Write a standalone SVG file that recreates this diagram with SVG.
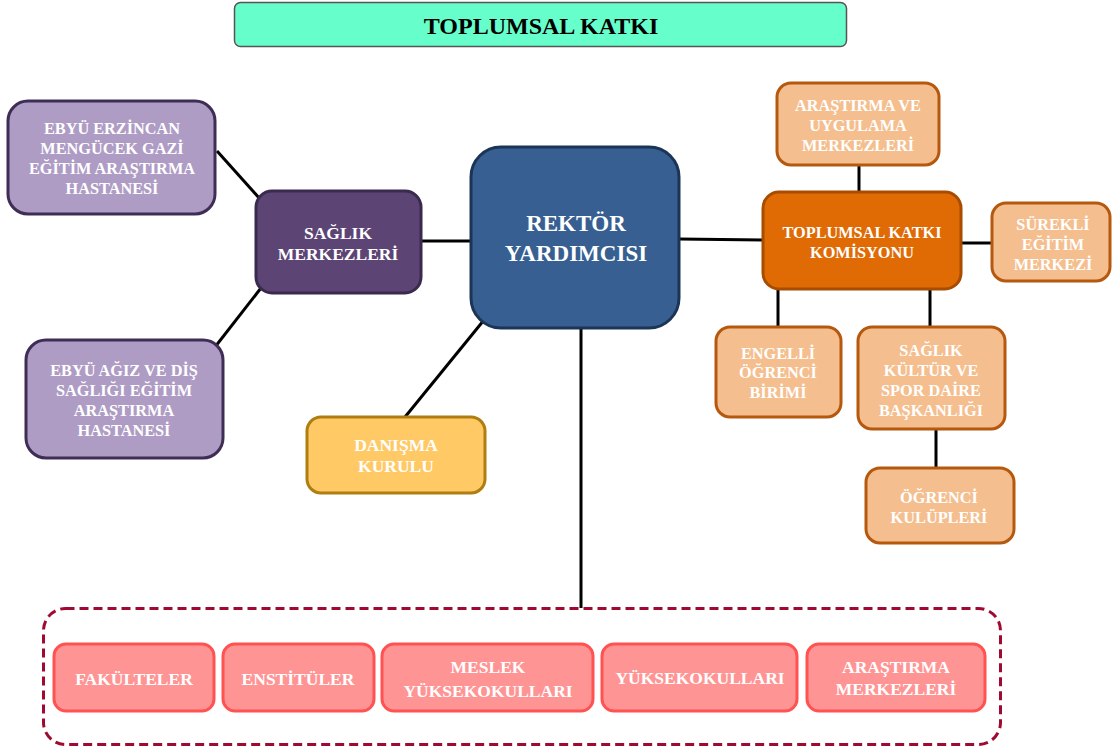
<svg xmlns="http://www.w3.org/2000/svg" width="1112" height="751" viewBox="0 0 1112 751">
<style>
text{font-family:"Liberation Serif","Times New Roman",serif;font-weight:bold;fill:#fff;text-anchor:middle;dominant-baseline:central}
.conn line{stroke:#000;stroke-width:3}
.lp{fill:#AE9CC5;stroke:#3E2D55;stroke-width:3}
.dp{fill:#5C4475;stroke:#3A2A4E;stroke-width:3}
.bl{fill:#375F92;stroke:#1C3557;stroke-width:3}
.ye{fill:#FFC966;stroke:#B07E10;stroke-width:3}
.lo{fill:#F5BE8E;stroke:#B5590F;stroke-width:3}
.do{fill:#E06A04;stroke:#A84C00;stroke-width:3}
.pk{fill:#FF9494;stroke:#FF5252;stroke-width:3}
.t16{font-size:16.3px}
.t17{font-size:17.5px}
</style>
<g id="connectors" class="conn">
<line x1="217" y1="151" x2="260" y2="199"/>
<line x1="215" y1="347" x2="261" y2="288"/>
<line x1="421" y1="241" x2="471" y2="241"/>
<line x1="484" y1="320" x2="405" y2="417"/>
<line x1="581" y1="328" x2="581" y2="608"/>
<line x1="679" y1="239" x2="763" y2="240"/>
<line x1="859" y1="165" x2="859" y2="192"/>
<line x1="961" y1="243" x2="992" y2="243"/>
<line x1="778" y1="289" x2="778" y2="327"/>
<line x1="930" y1="289" x2="930" y2="327"/>
<line x1="936" y1="429" x2="936" y2="468"/>
</g>
<g id="title">
<rect x="234.5" y="2.5" width="612" height="44" rx="6" fill="#66FFCC" stroke="#555" stroke-width="1.5"/>
<text x="541" y="25.5" style="fill:#000;font-size:24px">TOPLUMSAL KATKI</text>
</g>
<g id="ebyu-erzincan">
<rect class="lp" x="8" y="101" width="207" height="113" rx="20"/>
<text class="t16" x="112" y="128">EBYÜ ERZİNCAN</text>
<text class="t16" x="112" y="148">MENGÜCEK GAZİ</text>
<text class="t16" x="112" y="168">EĞİTİM ARAŞTIRMA</text>
<text class="t16" x="112" y="188">HASTANESİ</text>
</g>
<g id="ebyu-agiz">
<rect class="lp" x="26" y="340" width="197" height="118" rx="20"/>
<text class="t16" x="124" y="370">EBYÜ AĞIZ VE DİŞ</text>
<text class="t16" x="124" y="390">SAĞLIĞI EĞİTİM</text>
<text class="t16" x="124" y="410">ARAŞTIRMA</text>
<text class="t16" x="124" y="430">HASTANESİ</text>
</g>
<g id="saglik-merkezleri">
<rect class="dp" x="256" y="191" width="165" height="102" rx="16"/>
<text class="t17" x="338" y="233">SAĞLIK</text>
<text class="t17" x="338" y="254">MERKEZLERİ</text>
</g>
<g id="rektor-yardimcisi">
<rect class="bl" x="471" y="147" width="208" height="181" rx="30"/>
<text x="576" y="223" style="font-size:23px">REKTÖR</text>
<text x="576" y="253" style="font-size:23px">YARDIMCISI</text>
</g>
<g id="danisma-kurulu">
<rect class="ye" x="307" y="417" width="178" height="76" rx="14"/>
<text class="t17" x="396" y="445">DANIŞMA</text>
<text class="t17" x="396" y="466">KURULU</text>
</g>
<g id="arastirma-uygulama">
<rect class="lo" x="777" y="83" width="162" height="82" rx="14"/>
<text class="t16" x="858" y="105">ARAŞTIRMA VE</text>
<text class="t16" x="858" y="125">UYGULAMA</text>
<text class="t16" x="858" y="145">MERKEZLERİ</text>
</g>
<g id="toplumsal-katki-komisyonu">
<rect class="do" x="763" y="192" width="198" height="97" rx="16"/>
<text class="t16" x="862" y="232">TOPLUMSAL KATKI</text>
<text class="t16" x="862" y="252">KOMİSYONU</text>
</g>
<g id="surekli-egitim">
<rect class="lo" x="992" y="203" width="118" height="78" rx="14"/>
<text class="t16" x="1053" y="224">SÜREKLİ</text>
<text class="t16" x="1053" y="244">EĞİTİM</text>
<text class="t16" x="1053" y="264">MERKEZİ</text>
</g>
<g id="engelli-ogrenci">
<rect class="lo" x="716" y="327" width="125" height="90" rx="14"/>
<text class="t16" x="778" y="353">ENGELLİ</text>
<text class="t16" x="778" y="372">ÖĞRENCİ</text>
<text class="t16" x="778" y="392">BİRİMİ</text>
</g>
<g id="saglik-kultur-spor">
<rect class="lo" x="858" y="327" width="147" height="102" rx="14"/>
<text class="t16" x="931" y="350">SAĞLIK</text>
<text class="t16" x="931" y="370">KÜLTÜR VE</text>
<text class="t16" x="931" y="390">SPOR DAİRE</text>
<text class="t16" x="931" y="410">BAŞKANLIĞI</text>
</g>
<g id="ogrenci-kulupleri">
<rect class="lo" x="866" y="468" width="148" height="75" rx="14"/>
<text class="t16" x="939" y="497">ÖĞRENCİ</text>
<text class="t16" x="939" y="517">KULÜPLERİ</text>
</g>
<g id="birimler">
<rect x="43.5" y="608.5" width="957" height="136" rx="22" fill="none" stroke="#A00A30" stroke-width="3" stroke-dasharray="9 5"/>
</g>
<g id="fakulteler">
<rect class="pk" x="54" y="644" width="160" height="67" rx="12"/>
<text class="t17" x="134" y="679">FAKÜLTELER</text>
</g>
<g id="enstituler">
<rect class="pk" x="223" y="644" width="151" height="67" rx="12"/>
<text class="t17" x="298" y="679">ENSTİTÜLER</text>
</g>
<g id="meslek-yuksekokullari">
<rect class="pk" x="382" y="644" width="211" height="67" rx="12"/>
<text class="t17" x="488" y="667">MESLEK</text>
<text class="t17" x="488" y="691">YÜKSEKOKULLARI</text>
</g>
<g id="yuksekokullari">
<rect class="pk" x="602" y="644" width="195" height="67" rx="12"/>
<text class="t17" x="700" y="678">YÜKSEKOKULLARI</text>
</g>
<g id="arastirma-merkezleri">
<rect class="pk" x="807" y="644" width="178" height="67" rx="12"/>
<text class="t17" x="896" y="667">ARAŞTIRMA</text>
<text class="t17" x="896" y="689">MERKEZLERİ</text>
</g>
</svg>
